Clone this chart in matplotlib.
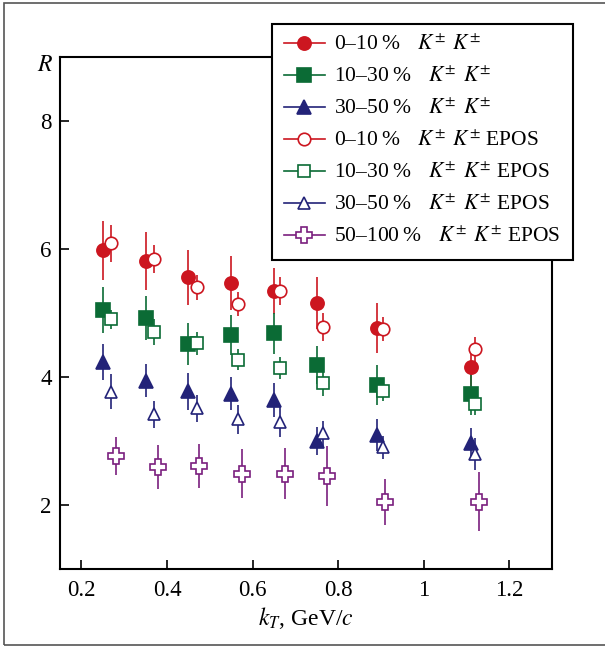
import numpy as np
import matplotlib
matplotlib.use("Agg")
import matplotlib.pyplot as plt
from matplotlib.lines import Line2D
from matplotlib.patches import Rectangle
from matplotlib.ticker import FormatStrFormatter

plt.rcParams['font.family'] = ['Liberation Serif', 'DejaVu Serif']
plt.rcParams['mathtext.fontset'] = 'stix'

# kT bins (GeV/c), shifted slightly per series as in the picture
kt_data = [0.25, 0.35, 0.45, 0.55, 0.65, 0.75, 0.89, 1.11]
kt_epos = [0.27, 0.37, 0.47, 0.565, 0.665, 0.765, 0.905, 1.12]
kt_epos_50 = [0.28, 0.38, 0.475, 0.575, 0.675, 0.775, 0.91, 1.13]

# measured R
r_0_10 = [5.98, 5.81, 5.56, 5.47, 5.35, 5.16, 4.76, 4.16]
e_0_10 = [0.46, 0.45, 0.43, 0.42, 0.36, 0.41, 0.39, 0.30]
r_10_30 = [5.05, 4.92, 4.52, 4.66, 4.68, 4.19, 3.87, 3.73]
e_10_30 = [0.36, 0.34, 0.33, 0.31, 0.32, 0.30, 0.31, 0.33]
r_30_50 = [4.24, 3.94, 3.78, 3.74, 3.64, 3.00, 3.10, 2.97]
e_30_50 = [0.28, 0.26, 0.29, 0.26, 0.27, 0.22, 0.25, 0.23]

# EPOS R
epos_0_10 = [6.09, 5.84, 5.40, 5.14, 5.35, 4.78, 4.75, 4.43]
ee_0_10 = [0.29, 0.22, 0.20, 0.19, 0.22, 0.22, 0.18, 0.20]
epos_10_30 = [4.90, 4.70, 4.53, 4.27, 4.14, 3.90, 3.78, 3.58]
ee_10_30 = [0.15, 0.20, 0.18, 0.16, 0.17, 0.20, 0.15, 0.18]
epos_30_50 = [3.77, 3.42, 3.51, 3.34, 3.30, 3.12, 2.90, 2.80]
ee_30_50 = [0.27, 0.21, 0.21, 0.23, 0.23, 0.20, 0.18, 0.25]
epos_50_100 = [2.77, 2.59, 2.61, 2.49, 2.49, 2.45, 2.05, 2.05]
ee_50_100 = [0.30, 0.34, 0.35, 0.38, 0.40, 0.47, 0.36, 0.46]

red = '#cc1620'
green = '#0b6b35'
blue = '#232378'
purple = '#7a1f7e'

KK = r'$\quad\, K^{\pm}\;\,K^{\pm}$'
labels = ['0\u201310\u2009%' + KK,
          '10\u201330\u2009%' + KK,
          '30\u201350\u2009%' + KK,
          '0\u201310\u2009%' + KK + ' EPOS',
          '10\u201330\u2009%' + KK + ' EPOS',
          '30\u201350\u2009%' + KK + ' EPOS',
          '50\u2013100\u2009%' + KK + ' EPOS']

series = [
    (kt_data, r_0_10, e_0_10, red, 'o', True, 9.5),
    (kt_data, r_10_30, e_10_30, green, 's', True, 9.5),
    (kt_data, r_30_50, e_30_50, blue, '^', True, 9.5),
    (kt_epos, epos_0_10, ee_0_10, red, 'o', False, 9),
    (kt_epos, epos_10_30, ee_10_30, green, 's', False, 9),
    (kt_epos, epos_30_50, ee_30_50, blue, '^', False, 9),
    (kt_epos_50, epos_50_100, ee_50_100, purple, 'P', False, 12),
]

fig = plt.figure(figsize=(6.05, 6.46), dpi=100)
ax = fig.add_axes([0.0992, 0.1192, 0.8132, 0.7926])

handles = []
for x, y, e, c, m, filled, ms in series:
    fc = c if filled else 'white'
    ax.errorbar(x, y, yerr=e, fmt=m, color=c, mfc=fc, mec=c, ms=ms,
                mew=1.2, elinewidth=1.2, capsize=0)
    handles.append(Line2D([], [], color=c, marker=m, mfc=fc, mec=c,
                          ms=ms, mew=1.2, lw=1.2))

ax.set_xlim(0.15, 1.3)
ax.set_ylim(1, 9)
ax.set_xticks([0.2, 0.4, 0.6, 0.8, 1.0, 1.2])
ax.set_yticks([2, 4, 6, 8])
ax.xaxis.set_major_formatter(FormatStrFormatter('%g'))
ax.tick_params(direction='in', length=6.5, width=1.2, labelsize=16.5,
               top=False, right=False)
ax.tick_params(axis='x', pad=8)
ax.tick_params(axis='y', pad=6)
for s in ax.spines.values():
    s.set_linewidth(1.5)

ax.set_xlabel(r'$k_T$, GeV/$c$', fontsize=17, labelpad=3)
ax.text(-0.03, 0.984, r'$R$', transform=ax.transAxes, fontsize=17,
        ha='center', va='center')

leg = ax.legend(handles, labels, loc='upper left',
                bbox_to_anchor=(0.4496, 0.9628),
                bbox_transform=fig.transFigure, fontsize=15.5,
                frameon=True, fancybox=False, framealpha=1,
                edgecolor='black', handlelength=1.9, handletextpad=0.45,
                labelspacing=0.55, borderpad=0.55, borderaxespad=0)
leg.get_frame().set_linewidth(1.5)

# outer frame around the figure (right side runs off the image)
fig.patches.append(Rectangle((4 / 605, 1.5 / 646), 1.0, 1 - 4.5 / 646,
                             transform=fig.transFigure, fill=False,
                             edgecolor='#555555', lw=1.2, clip_on=False))

fig.savefig('out.png', dpi=100)
